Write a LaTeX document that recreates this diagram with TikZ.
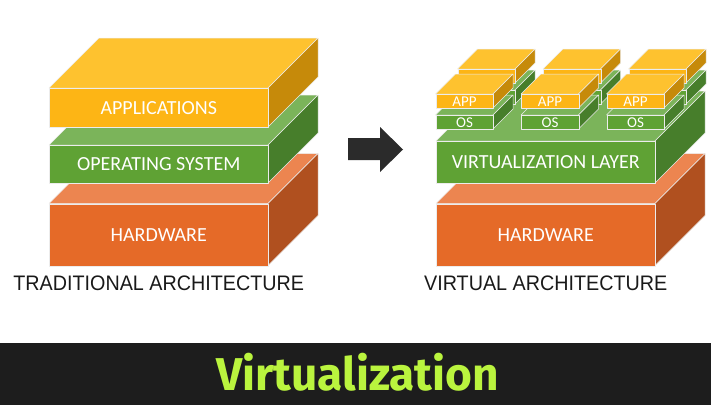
\documentclass[tikz,border=0pt]{standalone}
\usepackage{fontspec}
\setmainfont{Carlito}
\newfontfamily\capfont{Liberation Sans}
\newfontfamily\bannerfont{Fira Sans}
\usetikzlibrary{positioning}
\definecolor{yfront}{HTML}{FDB515}
\definecolor{ytop}{HTML}{FEC22F}
\definecolor{yside}{HTML}{C68A0A}
\definecolor{gfront}{HTML}{5FA234}
\definecolor{gtop}{HTML}{7BB45A}
\definecolor{gside}{HTML}{477E2B}
\definecolor{ofront}{HTML}{E56A28}
\definecolor{otop}{HTML}{EC8550}
\definecolor{oside}{HTML}{B0501F}
\definecolor{arrowgray}{HTML}{2B2B2B}
\definecolor{bannerbg}{HTML}{1D1D1D}
\definecolor{lime}{HTML}{BAF43E}
% one 3D slab: name, x, y (front top left), width, height, depth, colour, font size, label
\newcommand{\slab}[9]{%
  \path[face, fill=#7top] (#2,#3) -- ++(#6,-#6) -- ++(#4,0) -- ++(-#6,#6) -- cycle;
  \path[face, fill=#7side] ({#2+#4},#3) -- ++(#6,-#6) -- ++(0,#5) -- ++(-#6,#6) -- cycle;
  \node[face, fill=#7front, text=white, anchor=north west, inner sep=0pt,
        minimum width=#4pt, minimum height=#5pt,
        font=\fontsize{#8}{#8}\selectfont] (#1) at (#2,#3) {#9};
}

\begin{document}
\begin{tikzpicture}[x=1pt,y=-1pt]
    % `face' is the thin light edge of every slab face.
    % `caption' is used for the two titles under the stacks.
    \tikzstyle{face} = [draw=white!85!gray, line width=0.5pt, line join=round]
    \tikzstyle{caption} = [font=\capfont\fontsize{21}{21}\selectfont, text=black!90, inner sep=0pt]
    \tikzstyle{banner} = [font=\bannerfont\bfseries\fontsize{46}{46}\selectfont, text=lime, inner sep=0pt]
    \useasboundingbox (0,0) rectangle (711,405);
    %
    % Traditional stack.
    \slab{hw}{49}{203.5}{219}{62}{50}{o}{20}{HARDWARE}
    \slab{os}{49}{145}{219}{38}{50}{g}{20}{OPERATING SYSTEM}
    \slab{apps}{49}{88}{219}{39}{50}{y}{20}{APPLICATIONS}
    \node[caption, below=9.5pt of hw] (tradcap) {\scalebox{0.94}[1]{TRADITIONAL ARCHITECTURE}};
    %
    % Arrow.
    \fill[arrowgray] (348,138) -- (380,138) -- (380,127) -- (403,149.5)
        -- (380,172) -- (380,160) -- (348,160) -- cycle;
    %
    % Virtual stack.
    \slab{vhw}{436}{203.5}{219}{62}{50}{o}{20}{HARDWARE}
    \slab{virt}{436}{141}{219}{42}{50}{g}{20}{VIRTUALIZATION LAYER}
    % back row of guests
    \foreach \i/\x in {1/457.5, 2/543, 3/628.5} {
        \slab{bos\i}{\x}{90}{57.5}{14}{20}{g}{15}{}
        \slab{bapp\i}{\x}{69}{57.5}{14}{20}{y}{15}{}
    }
    % front row of guests
    \foreach \i/\x in {1/435.5, 2/521, 3/606.5} {
        \slab{os\i}{\x}{115}{57.5}{14}{20}{g}{15}{OS}
        \slab{app\i}{\x}{94}{57.5}{14}{20}{y}{15}{APP}
    }
    \node[caption, below=9.5pt of vhw] (virtcap) {\scalebox{0.94}[1]{VIRTUAL ARCHITECTURE}};
    %
    % Banner.
    \fill[bannerbg] (0,343) rectangle (711,405);
    \node[banner, anchor=base] (title) at (357.5,390) {Virtualization};
\end{tikzpicture}
\end{document}
